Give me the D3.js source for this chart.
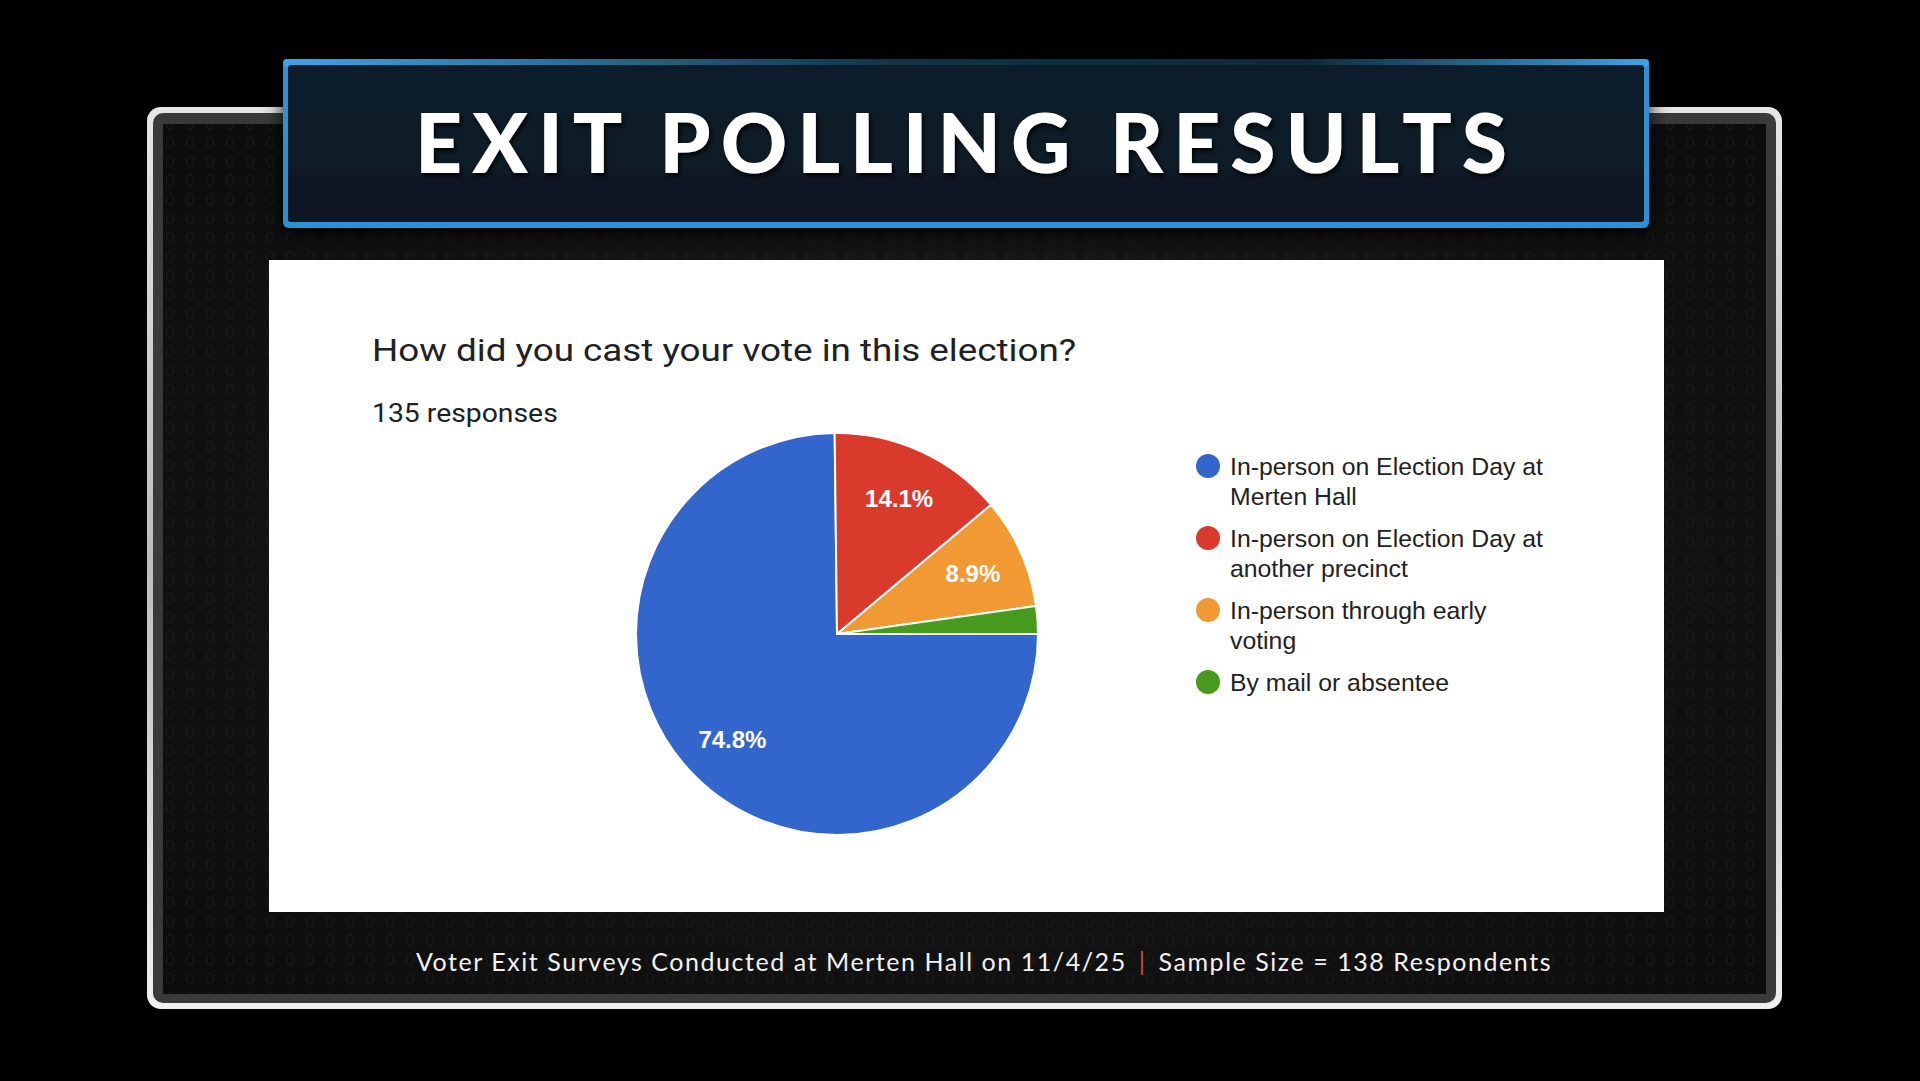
<!DOCTYPE html>
<html>
<head>
<meta charset="utf-8">
<script src="https://cdn.jsdelivr.net/npm/d3@7"></script>
<style>
  html, body { margin: 0; padding: 0; background: #000; overflow: hidden; }
  svg { display: block; }
</style>
</head>
<body>
<div id="container"></div>
<script>
const WIDTH = 1920;
const HEIGHT = 1081;

// chart data
const bannerTitle = 'EXIT POLLING RESULTS';
const chartTitle = 'How did you cast your vote in this election?';
const responseNote = '135 responses';
const categories = [
  'In-person on Election Day at Merten Hall',
  'In-person on Election Day at another precinct',
  'In-person through early voting',
  'By mail or absentee',
];
const responses = [101, 19, 12, 3];
const sliceColors = ['#3266cc', '#da3a2c', '#f19a34', '#489a1e'];
const footerParts = [
  'Voter Exit Surveys Conducted at Merten Hall on 11/4/25',
  'Sample Size = 138 Respondents',
];

const svg = d3
  .select('#container')
  .append('svg')
  .attr('width', WIDTH)
  .attr('height', HEIGHT);

const defs = svg.append('defs');

// gradients + filters
const frameGrad = defs
  .append('linearGradient')
  .attr('id', 'frame-grad')
  .attr('x1', 0).attr('y1', 0).attr('x2', 0).attr('y2', 1);
frameGrad.append('stop').attr('offset', '0%').attr('stop-color', '#e6e6e6');
frameGrad.append('stop').attr('offset', '50%').attr('stop-color', '#bdbdbd');
frameGrad.append('stop').attr('offset', '100%').attr('stop-color', '#f0f0f0');

const innerGrad = defs
  .append('radialGradient')
  .attr('id', 'inner-grad')
  .attr('cx', '50%').attr('cy', '50%').attr('r', '70%');
innerGrad.append('stop').attr('offset', '0%').attr('stop-color', '#1c1c1c');
innerGrad.append('stop').attr('offset', '100%').attr('stop-color', '#0c0c0c');

const bannerGrad = defs
  .append('linearGradient')
  .attr('id', 'banner-grad')
  .attr('x1', 0).attr('y1', 0).attr('x2', 0).attr('y2', 1);
bannerGrad.append('stop').attr('offset', '0%').attr('stop-color', '#0f1f2c');
bannerGrad.append('stop').attr('offset', '100%').attr('stop-color', '#0a1721');

const topEdge = defs
  .append('linearGradient')
  .attr('id', 'top-edge')
  .attr('x1', 0).attr('y1', 0).attr('x2', 1).attr('y2', 0);
topEdge.append('stop').attr('offset', '0%').attr('stop-color', '#3ea3e6');
topEdge.append('stop').attr('offset', '45%').attr('stop-color', '#123247');
topEdge.append('stop').attr('offset', '75%').attr('stop-color', '#0f2a3d');
topEdge.append('stop').attr('offset', '100%').attr('stop-color', '#3ea3e6');

const shadow = defs
  .append('filter')
  .attr('id', 'shadow')
  .attr('x', '-10%').attr('y', '-30%').attr('width', '120%').attr('height', '160%');
shadow
  .append('feDropShadow')
  .attr('dx', 0).attr('dy', 6).attr('stdDeviation', 10)
  .attr('flood-color', '#000').attr('flood-opacity', 0.9);

const textShadow = defs
  .append('filter')
  .attr('id', 'text-shadow')
  .attr('x', '-5%').attr('y', '-20%').attr('width', '110%').attr('height', '140%');
textShadow
  .append('feDropShadow')
  .attr('dx', 2).attr('dy', 3).attr('stdDeviation', 2)
  .attr('flood-color', '#000').attr('flood-opacity', 0.85);

const dots = defs
  .append('pattern')
  .attr('id', 'dots')
  .attr('patternUnits', 'userSpaceOnUse')
  .attr('width', 20)
  .attr('height', 19);
dots
  .append('ellipse')
  .attr('cx', 10).attr('cy', 9.5).attr('rx', 3.5).attr('ry', 5.5)
  .attr('fill', 'none')
  .attr('stroke', '#262626')
  .attr('stroke-width', 1);

// outer frame
svg
  .append('rect')
  .attr('x', 147).attr('y', 107)
  .attr('width', 1635).attr('height', 902)
  .attr('rx', 14)
  .attr('fill', 'url(#frame-grad)');

svg
  .append('rect')
  .attr('x', 153).attr('y', 113)
  .attr('width', 1623).attr('height', 890)
  .attr('rx', 10)
  .attr('fill', '#3a3a3a');

svg
  .append('rect')
  .attr('x', 163).attr('y', 124)
  .attr('width', 1603).attr('height', 870)
  .attr('fill', 'url(#inner-grad)');

svg
  .append('rect')
  .attr('x', 163).attr('y', 124)
  .attr('width', 1603).attr('height', 870)
  .attr('fill', 'url(#dots)')
  .attr('opacity', 0.6);

// banner
const banner = svg.append('g').attr('filter', 'url(#shadow)');

banner
  .append('rect')
  .attr('x', 283).attr('y', 59)
  .attr('width', 1366).attr('height', 169)
  .attr('rx', 6)
  .attr('fill', '#2f8fd2');

banner
  .append('rect')
  .attr('x', 283).attr('y', 59)
  .attr('width', 1366).attr('height', 8)
  .attr('rx', 4)
  .attr('fill', 'url(#top-edge)');

banner
  .append('rect')
  .attr('x', 288).attr('y', 65)
  .attr('width', 1356).attr('height', 157)
  .attr('rx', 3)
  .attr('fill', 'url(#banner-grad)');

svg
  .append('text')
  .attr('x', 966)
  .attr('y', 173)
  .attr('text-anchor', 'middle')
  .attr('font-family', 'Lato, "Open Sans", sans-serif')
  .attr('font-weight', 900)
  .attr('font-size', 82)
  .attr('letter-spacing', 10)
  .attr('fill', '#ffffff')
  .attr('filter', 'url(#text-shadow)')
  .text(bannerTitle);

// white panel
svg
  .append('rect')
  .attr('x', 269).attr('y', 260)
  .attr('width', 1395).attr('height', 652)
  .attr('fill', '#ffffff');

// the form screenshot is slightly stretched sideways, so widen the heading text
svg
  .append('text')
  .attr('transform', 'translate(372, 361) scale(1.15, 1)')
  .attr('font-family', 'Roboto, sans-serif')
  .attr('font-size', 32)
  .attr('fill', '#202124')
  .text(chartTitle);

svg
  .append('text')
  .attr('transform', 'translate(372, 422) scale(1.09, 1)')
  .attr('font-family', 'Roboto, sans-serif')
  .attr('font-size', 26)
  .attr('fill', '#202124')
  .text(responseNote);

// pie
const cx = 837;
const cy = 634;
const radius = 201;
const total = d3.sum(responses);

const pie = d3
  .pie()
  .sort(null)
  .startAngle(Math.PI / 2)
  .endAngle(Math.PI / 2 + 2 * Math.PI);

const arc = d3.arc().innerRadius(0).outerRadius(radius);
const labelArc = d3
  .arc()
  .innerRadius(radius * 0.74)
  .outerRadius(radius * 0.74);

const color = d3.scaleOrdinal().domain(categories).range(sliceColors);
const pct = d3.format('.1%');

const slices = pie(responses).map((d, i) => ({ ...d, category: categories[i] }));

const pieG = svg.append('g').attr('transform', `translate(${cx}, ${cy})`);

pieG
  .selectAll('path')
  .data(slices)
  .enter()
  .append('path')
  .attr('d', arc)
  .attr('fill', (d) => color(d.category))
  .attr('stroke', '#ffffff')
  .attr('stroke-width', 2)
  .attr('stroke-linejoin', 'round');

pieG
  .selectAll('text')
  .data(slices.filter((d) => d.value / total > 0.05))
  .enter()
  .append('text')
  .attr('transform', (d) => `translate(${labelArc.centroid(d)})`)
  .attr('text-anchor', 'middle')
  .attr('dy', '0.36em')
  .attr('font-family', '"Liberation Sans", Arial, sans-serif')
  .attr('font-weight', 'bold')
  .attr('font-size', 24)
  .attr('fill', '#ffffff')
  .text((d) => pct(d.value / total));

// legend
const legend = svg.append('g').attr('transform', 'translate(1208, 466)');

const legendElem = legend
  .selectAll('g')
  .data(categories)
  .enter()
  .append('g')
  .attr('transform', (d, i) => `translate(0, ${i * 72})`);

legendElem
  .append('circle')
  .attr('r', 12)
  .attr('fill', (d) => color(d));

legendElem
  .append('text')
  .attr('x', 22)
  .attr('y', 9)
  .attr('font-family', '"Liberation Sans", Arial, sans-serif')
  .attr('font-size', 24.8)
  .attr('fill', '#222222')
  .each(function (d) {
    const text = d3.select(this);
    const words = d.split(' ');
    let line = [];
    let tspan = text.append('tspan').attr('x', 22).attr('dy', 0);
    words.forEach((w) => {
      line.push(w);
      tspan.text(line.join(' '));
      if (tspan.node().getComputedTextLength() > 320 && line.length > 1) {
        line.pop();
        tspan.text(line.join(' '));
        line = [w];
        tspan = text.append('tspan').attr('x', 22).attr('dy', 30).text(w);
      }
    });
  });

// footer
const footer = svg
  .append('text')
  .attr('x', 984)
  .attr('y', 971)
  .attr('text-anchor', 'middle')
  .attr('font-family', 'Lato, sans-serif')
  .attr('font-size', 25)
  .attr('letter-spacing', 1.55)
  .attr('fill', '#f2f2f2');

footer.append('tspan').text(footerParts[0]);
footer.append('tspan').attr('fill', '#c9502e').attr('dx', 12).text('|');
footer.append('tspan').attr('dx', 12).text(footerParts[1]);
</script>
</body>
</html>
